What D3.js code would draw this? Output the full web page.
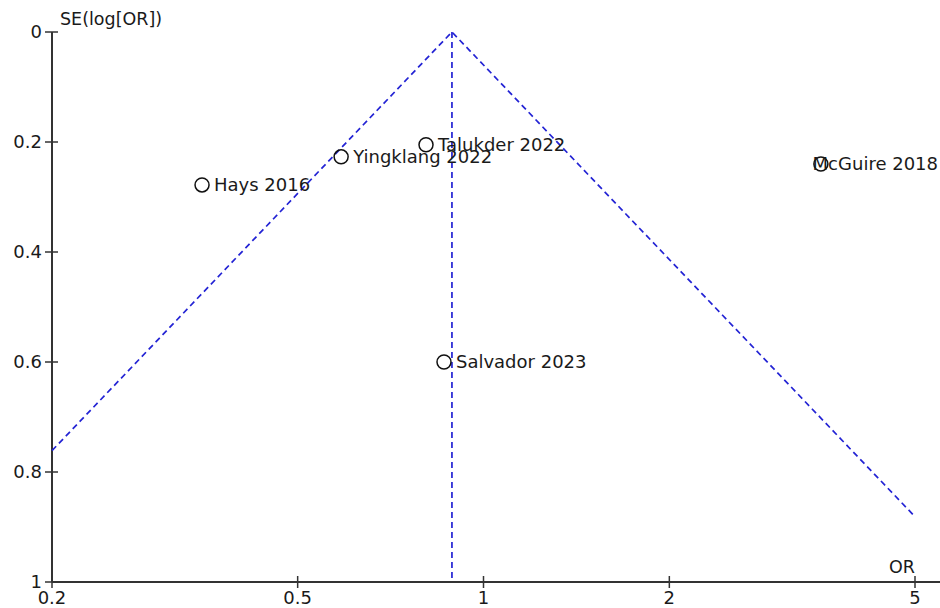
<!DOCTYPE html>
<html>
<head>
<meta charset="utf-8">
<script src="https://cdn.jsdelivr.net/npm/d3@7"></script>
<style>
  html, body { margin: 0; padding: 0; background: #fff; }
  svg { display: block; }
  text { font-family: "DejaVu Sans", sans-serif; fill: #1a1a1a; }
</style>
</head>
<body>
<svg id="chart" width="940" height="608"></svg>
<script>
// Funnel plot data: study, odds ratio, standard error of log(OR)
const studies = ["Hays 2016", "Yingklang 2022", "Talukder 2022", "McGuire 2018", "Salvador 2023"];
const oddsRatios = [0.35, 0.588, 0.807, 3.52, 0.863];
const standardErrors = [0.278, 0.227, 0.205, 0.24, 0.6];
const pooledOR = 0.889;
const xTicks = [0.2, 0.5, 1, 2, 5];
const yTicks = [0, 0.2, 0.4, 0.6, 0.8, 1];

const W = 940, H = 608;
const margin = { left: 52, right: 25, top: 32, bottom: 26 };
const fontSize = 18;
const svg = d3.select("#chart");

const x = d3.scaleLog().domain([0.2, 5]).range([margin.left, W - margin.right]);
const y = d3.scaleLinear().domain([0, 1]).range([margin.top, H - margin.bottom]);

// Axes
const axisColor = "#333";
svg.append("line")
  .attr("x1", margin.left).attr("x2", W)
  .attr("y1", y(1)).attr("y2", y(1))
  .attr("stroke", axisColor).attr("stroke-width", 2);
svg.append("line")
  .attr("x1", margin.left).attr("x2", margin.left)
  .attr("y1", y(0)).attr("y2", y(1))
  .attr("stroke", axisColor).attr("stroke-width", 2);

// Y ticks
const yt = svg.append("g");
yTicks.forEach(v => {
  yt.append("line")
    .attr("x1", margin.left - 7).attr("x2", margin.left + 6)
    .attr("y1", y(v)).attr("y2", y(v))
    .attr("stroke", axisColor).attr("stroke-width", 1.5);
  yt.append("text")
    .attr("x", margin.left - 10).attr("y", y(v))
    .attr("dy", "0.35em").attr("text-anchor", "end")
    .attr("font-size", fontSize)
    .text(d3.format("~g")(v));
});

// X ticks
const xt = svg.append("g");
xTicks.forEach(v => {
  xt.append("line")
    .attr("x1", x(v)).attr("x2", x(v))
    .attr("y1", y(1) - 6).attr("y2", y(1) + 6)
    .attr("stroke", axisColor).attr("stroke-width", 1.5);
  xt.append("text")
    .attr("x", x(v)).attr("y", y(1) + 22)
    .attr("text-anchor", "middle")
    .attr("font-size", fontSize)
    .text(v);
});

// Axis titles
svg.append("text")
  .attr("x", margin.left + 8).attr("y", 25)
  .attr("font-size", 17.5)
  .text("SE(log[OR])");
svg.append("text")
  .attr("x", x(5)).attr("y", y(1) - 9)
  .attr("text-anchor", "end")
  .attr("font-size", 17.5)
  .text("OR");

// Pseudo 95% confidence funnel around the pooled estimate
const lp = Math.log(pooledOR);
const dashStyle = sel => sel
  .attr("fill", "none")
  .attr("stroke", "#2323d4")
  .attr("stroke-width", 1.7)
  .attr("stroke-dasharray", "6,4");

const seLeft = (lp - Math.log(0.2)) / 1.96;
const seRight = (Math.log(5) - lp) / 1.96;
const line = d3.line().x(d => x(d[0])).y(d => y(d[1]));

svg.append("path")
  .attr("d", line([[0.2, seLeft], [pooledOR, 0], [5, seRight]]))
  .call(dashStyle);
svg.append("path")
  .attr("d", line([[pooledOR, 0], [pooledOR, 1]]))
  .call(dashStyle);

// Study points and labels
const pts = svg.append("g");
studies.forEach((name, i) => {
  const cx = x(oddsRatios[i]), cy = y(standardErrors[i]);
  pts.append("circle")
    .attr("cx", cx).attr("cy", cy).attr("r", 7)
    .attr("fill", "none").attr("stroke", "#111").attr("stroke-width", 1.5);
  const t = pts.append("text")
    .attr("x", cx + 12).attr("y", cy)
    .attr("dy", "0.35em")
    .attr("font-size", fontSize)
    .text(name);
  // keep labels inside the drawing area
  const bb = t.node().getBBox();
  if (bb.x + bb.width > W - 2) t.attr("x", W - 2 - bb.width);
});
</script>
</body>
</html>
